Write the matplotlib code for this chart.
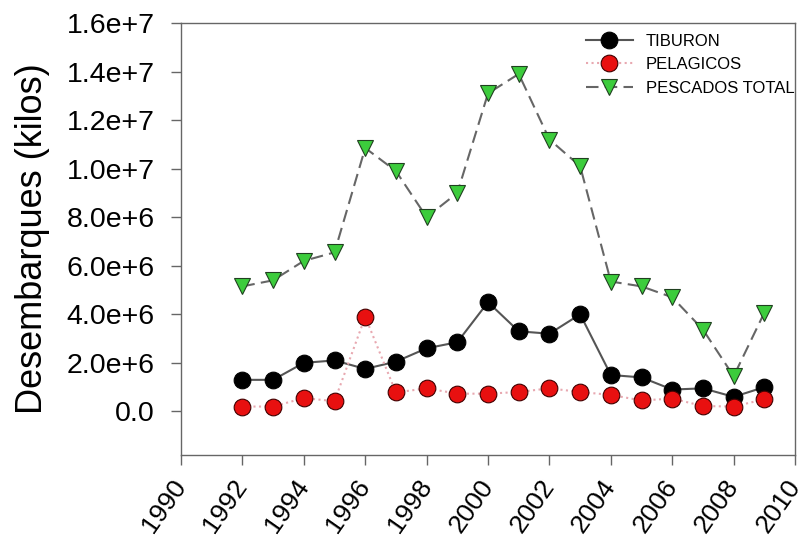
import matplotlib
matplotlib.use("Agg")
import matplotlib.pyplot as plt
from matplotlib.ticker import FuncFormatter, MultipleLocator

# Datos (kilos)
anios = [1992, 1993, 1994, 1995, 1996, 1997, 1998, 1999, 2000,
         2001, 2002, 2003, 2004, 2005, 2006, 2007, 2008, 2009]
tiburon = [1.3e6, 1.3e6, 2.0e6, 2.1e6, 1.75e6, 2.05e6, 2.6e6, 2.85e6, 4.5e6,
           3.3e6, 3.2e6, 4.0e6, 1.5e6, 1.4e6, 0.9e6, 0.95e6, 0.6e6, 1.0e6]
pelagicos = [0.2e6, 0.2e6, 0.55e6, 0.42e6, 3.9e6, 0.78e6, 0.95e6, 0.73e6, 0.73e6,
             0.8e6, 0.95e6, 0.8e6, 0.68e6, 0.45e6, 0.53e6, 0.22e6, 0.2e6, 0.5e6]
pescados = [5.15e6, 5.4e6, 6.2e6, 6.55e6, 10.85e6, 9.9e6, 8.0e6, 9.0e6, 13.1e6,
            13.9e6, 11.2e6, 10.1e6, 5.35e6, 5.15e6, 4.7e6, 3.37e6, 1.45e6, 4.07e6]
series = ["TIBURON", "PELAGICOS", "PESCADOS TOTAL"]

plt.rcParams['font.family'] = ['Liberation Sans', 'DejaVu Sans']

fig = plt.figure(figsize=(8.08, 5.47), dpi=100)
ax = fig.add_axes([0.224, 0.168, 0.76, 0.79])

ax.plot(anios, tiburon, color='#555555', lw=1.5, ls='-', marker='o', ms=12,
        mfc='black', mec='black', mew=0.8, label=series[0], zorder=3)
ax.plot(anios, pelagicos, color='#e8a8b0', lw=1.5, ls=':', marker='o', ms=12,
        mfc='#e81010', mec='#400000', mew=0.8, label=series[1], zorder=3)
ax.plot(anios, pescados, color='#666666', lw=1.5, ls=(0, (6, 3)), marker='v', ms=12,
        mfc='#3ccc3c', mec='#204020', mew=0.8, label=series[2], zorder=3)

ax.set_xlim(1990, 2010)
ax.xaxis.set_major_locator(MultipleLocator(2))
ax.yaxis.set_major_locator(MultipleLocator(2e6))

def fmt(v, pos):
    if abs(v) < 1:
        return "0.0"
    exp = len(str(int(round(v)))) - 1
    return "%.1fe+%d" % (v / 10 ** exp, exp)

ax.yaxis.set_major_formatter(FuncFormatter(fmt))
ax.set_ylim(-1.8e6, 1.6e7)

for s in ax.spines.values():
    s.set_color('#666666')
    s.set_linewidth(1.0)
ax.tick_params(direction='out', length=7, width=1, color='#666666', labelsize=19,
               top=False, right=False)
ax.tick_params(axis='y', pad=12, labelsize=20.5)
ax.tick_params(axis='x', pad=12)
plt.setp(ax.get_xticklabels(), rotation=55, ha='right', va='center',
         rotation_mode='anchor')

ax.set_ylabel("Desembarques (kilos)", fontsize=26, labelpad=12)

ax.legend(loc='upper right', frameon=False, fontsize=12, handlelength=2.8,
          handletextpad=0.8, markerscale=1.0, borderaxespad=0, borderpad=0.4,
          labelspacing=0.5, bbox_to_anchor=(1.01, 0.99))

fig.savefig("out.png", dpi=100)
